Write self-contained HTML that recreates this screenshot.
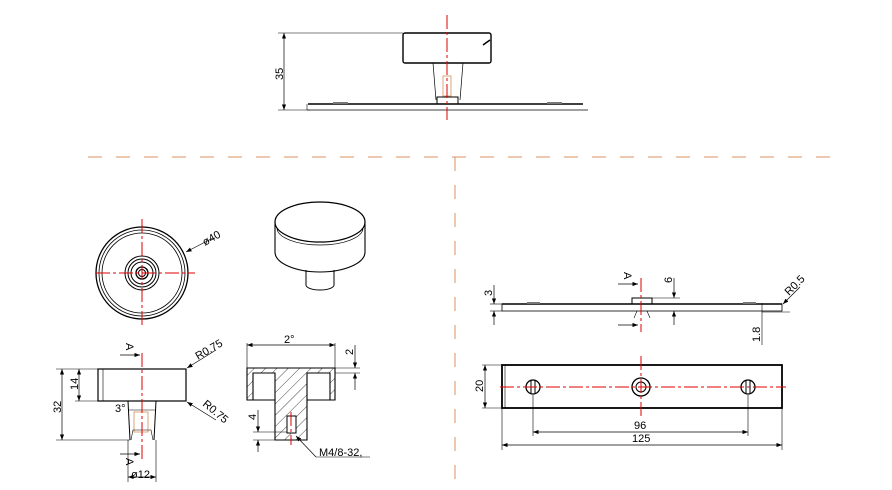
<!DOCTYPE html>
<html><head><meta charset="utf-8"><style>
html,body{margin:0;padding:0;background:#fff}
svg{display:block}
text{font-family:"Liberation Sans",sans-serif;font-size:11px;fill:#000}
</style></head><body>
<svg width="892" height="490" viewBox="0 0 892 490" xmlns="http://www.w3.org/2000/svg">
<defs>
<pattern id="h" width="8" height="8" patternUnits="userSpaceOnUse" patternTransform="rotate(45)">
<line x1="0" y1="0" x2="0" y2="8" stroke="#000" stroke-width="0.7"/></pattern>
<marker id="a" markerWidth="8" markerHeight="6" refX="8" refY="3" orient="auto-start-reverse"><path d="M0,0 L8,3 L0,6z" fill="#000"/></marker>
</defs>
<g stroke="#000" fill="none" stroke-width="1">
<line x1="278" y1="33" x2="403" y2="33" stroke-width="0.6"/>
<line x1="278" y1="110" x2="310" y2="110" stroke-width="0.6"/>
<line x1="284" y1="33" x2="284" y2="110" stroke-width="0.7" marker-start="url(#a)" marker-end="url(#a)"/>
<rect x="403" y="33" width="88" height="30" rx="2" stroke-width="1.4"/>
<line x1="483" y1="45" x2="490" y2="40" stroke-width="1.5"/>
<line x1="433" y1="63" x2="436" y2="100" stroke-width="0.7"/>
<line x1="463" y1="63" x2="460" y2="100" stroke-width="0.7"/>
<rect x="437" y="97" width="21" height="7"/>
<rect x="443" y="76" width="8" height="20" stroke="#d08040" stroke-width="0.7"/>
<line x1="308" y1="104" x2="583" y2="104" stroke-width="1.6"/>
<line x1="307" y1="110" x2="588" y2="110" stroke-width="0.8"/>
<line x1="307" y1="104" x2="307" y2="110" stroke-width="0.6"/>
<line x1="333" y1="103" x2="348" y2="103" stroke-width="2" stroke="#777"/>
<line x1="547" y1="103" x2="562" y2="103" stroke-width="2" stroke="#777"/>
<rect x="98" y="369" width="88" height="32" stroke-width="1.2"/>
<line x1="103" y1="369" x2="103" y2="401" stroke-width="0.6"/>
<line x1="128" y1="401" x2="130" y2="440"/>
<line x1="156" y1="401" x2="154" y2="440"/>
<line x1="128" y1="410" x2="156" y2="410" stroke-width="0.6"/>
<rect x="134" y="412" width="14" height="20" stroke="#d08040" stroke-width="0.7"/>
<path d="M131,440 L133,430 L151,430 L153,440" stroke-width="0.6"/>
<line x1="56" y1="369" x2="98" y2="369" stroke-width="0.6"/>
<line x1="56" y1="440" x2="130" y2="440" stroke-width="0.6"/>
<line x1="62" y1="369" x2="62" y2="440" stroke-width="0.7" marker-start="url(#a)" marker-end="url(#a)"/>
<line x1="79" y1="369" x2="79" y2="401" stroke-width="0.7" marker-start="url(#a)" marker-end="url(#a)"/>
<line x1="75" y1="401" x2="98" y2="401" stroke-width="0.6"/>
<line x1="128" y1="440" x2="128" y2="482" stroke-width="0.6"/>
<line x1="156" y1="440" x2="156" y2="482" stroke-width="0.6"/>
<line x1="128" y1="477" x2="156" y2="477" stroke-width="0.7" marker-start="url(#a)" marker-end="url(#a)"/>
<line x1="120" y1="355" x2="140" y2="355" stroke-width="0.7" marker-end="url(#a)"/>
<line x1="120" y1="454" x2="140" y2="454" stroke-width="0.7" marker-end="url(#a)"/>
<line x1="216" y1="350" x2="187" y2="368" stroke-width="0.7" marker-end="url(#a)"/>
<line x1="216" y1="420" x2="187" y2="402" stroke-width="0.7" marker-end="url(#a)"/>
<path d="M247,368 H335 V400 H307 V440 H275 V400 H247 Z M253,373 V400 H275 V373 Z M307,373 V400 H330 V373 Z" fill="url(#h)" fill-rule="evenodd" stroke-width="1.1"/>
<line x1="247" y1="343" x2="247" y2="368" stroke-width="0.6"/>
<line x1="335" y1="343" x2="335" y2="368" stroke-width="0.6"/>
<line x1="247" y1="345" x2="335" y2="345" stroke-width="0.7" marker-start="url(#a)" marker-end="url(#a)"/>
<line x1="335" y1="368" x2="360" y2="368" stroke-width="0.6"/>
<line x1="335" y1="373" x2="360" y2="373" stroke-width="0.6"/>
<line x1="355" y1="345" x2="355" y2="368" stroke-width="0.7" marker-end="url(#a)"/>
<line x1="355" y1="390" x2="355" y2="373" stroke-width="0.7" marker-end="url(#a)"/>
<rect x="287" y="416" width="9" height="17" fill="#fff"/>
<line x1="253" y1="432" x2="287" y2="432" stroke-width="0.6"/>
<line x1="253" y1="440" x2="275" y2="440" stroke-width="0.6"/>
<line x1="258" y1="410" x2="258" y2="432" stroke-width="0.7" marker-end="url(#a)"/>
<line x1="258" y1="452" x2="258" y2="440" stroke-width="0.7" marker-end="url(#a)"/>
<line x1="316" y1="457" x2="296" y2="436" stroke-width="0.7" marker-end="url(#a)"/>
<line x1="316" y1="457" x2="370" y2="457" stroke-width="0.6"/>
<circle cx="142" cy="273" r="46" stroke-width="1.3"/>
<circle cx="142" cy="273" r="43" stroke-width="0.8"/>
<circle cx="142" cy="273" r="40" stroke-width="0.8"/>
<circle cx="142" cy="273" r="17"/>
<circle cx="142" cy="273" r="14"/>
<circle cx="142" cy="273" r="11"/>
<circle cx="142" cy="273" r="6" stroke-width="1.3"/>
<circle cx="142" cy="273" r="3.5"/>
<line x1="213" y1="238" x2="186" y2="252" stroke-width="0.7" marker-end="url(#a)"/>
<path d="M275,222 V252 A45,20 0 0 0 365,252 V222" stroke-width="1.1"/>
<ellipse cx="320" cy="222" rx="45" ry="20" stroke-width="1.2"/>
<path d="M277,228 A43,17 0 0 0 363,228" stroke-width="0.7"/>
<path d="M306,270 V285 A14,5 0 0 0 334,285 V270" stroke-width="1"/>
<rect x="502" y="304" width="280" height="7" stroke-width="0.8"/>
<line x1="502" y1="304" x2="782" y2="304" stroke-width="1.6"/>
<rect x="632" y="298" width="20" height="6"/>
<path d="M634,318 L637,311 M650,318 L647,311" stroke-width="0.6"/>
<line x1="527" y1="303" x2="540" y2="303" stroke-width="2" stroke="#777"/>
<line x1="743" y1="303" x2="756" y2="303" stroke-width="2" stroke="#777"/>
<line x1="490" y1="304" x2="502" y2="304" stroke-width="0.6"/>
<line x1="490" y1="311" x2="502" y2="311" stroke-width="0.6"/>
<line x1="494" y1="285" x2="494" y2="304" stroke-width="0.7" marker-end="url(#a)"/>
<line x1="494" y1="325" x2="494" y2="311" stroke-width="0.7" marker-end="url(#a)"/>
<line x1="652" y1="298" x2="680" y2="298" stroke-width="0.6"/>
<line x1="674" y1="278" x2="674" y2="298" stroke-width="0.7" marker-end="url(#a)"/>
<line x1="674" y1="325" x2="674" y2="311" stroke-width="0.7" marker-end="url(#a)"/>
<line x1="618" y1="284" x2="638" y2="284" stroke-width="0.7" marker-end="url(#a)"/>
<line x1="618" y1="325" x2="638" y2="325" stroke-width="0.7" marker-end="url(#a)"/>
<line x1="762" y1="303" x2="762" y2="345" stroke-width="0.6"/>
<line x1="762" y1="312" x2="790" y2="312" stroke-width="0.6"/>
<line x1="800" y1="287" x2="783" y2="304" stroke-width="0.7" marker-end="url(#a)"/>
<rect x="502" y="365" width="280" height="43" stroke-width="1.8"/>
<line x1="505" y1="365" x2="505" y2="408" stroke-width="0.6"/>
<circle cx="533" cy="387" r="7" stroke-width="1.3"/>
<line x1="531" y1="381" x2="531" y2="393"/><line x1="535" y1="381" x2="535" y2="393"/>
<circle cx="748" cy="387" r="7" stroke-width="1.3"/>
<line x1="746" y1="381" x2="746" y2="393"/><line x1="750" y1="381" x2="750" y2="393"/>
<circle cx="641" cy="387" r="9" stroke-width="1.3"/>
<circle cx="641" cy="387" r="5"/>
<line x1="482" y1="365" x2="502" y2="365" stroke-width="0.6"/>
<line x1="482" y1="408" x2="502" y2="408" stroke-width="0.6"/>
<line x1="485" y1="365" x2="485" y2="408" stroke-width="0.7" marker-start="url(#a)" marker-end="url(#a)"/>
<line x1="533" y1="395" x2="533" y2="436" stroke-width="0.6"/>
<line x1="748" y1="395" x2="748" y2="436" stroke-width="0.6"/>
<line x1="533" y1="432" x2="748" y2="432" stroke-width="0.7" marker-start="url(#a)" marker-end="url(#a)"/>
<line x1="502" y1="408" x2="502" y2="450" stroke-width="0.6"/>
<line x1="782" y1="408" x2="782" y2="450" stroke-width="0.6"/>
<line x1="502" y1="445" x2="782" y2="445" stroke-width="0.7" marker-start="url(#a)" marker-end="url(#a)"/>
</g>
<g stroke="#e00000" stroke-width="1" stroke-dasharray="14,3,3,3" fill="none">
<line x1="447" y1="15" x2="447" y2="120"/>
<line x1="142" y1="353" x2="142" y2="462"/>
<line x1="291" y1="412" x2="291" y2="445"/>
<line x1="96" y1="273" x2="195" y2="273"/>
<line x1="142" y1="219" x2="142" y2="328"/>
<line x1="641" y1="278" x2="641" y2="332"/>
<line x1="641" y1="356" x2="641" y2="418"/>
<line x1="500" y1="387" x2="786" y2="387"/>
</g>
<g stroke="#d89060" stroke-width="1" stroke-dasharray="14,14" fill="none">
<line x1="88" y1="157" x2="836" y2="157"/>
<line x1="455" y1="157" x2="455" y2="490"/>
</g>
<text transform="translate(283,80) rotate(-90)">35</text>
<text transform="translate(205,246) rotate(-30)">ø40</text>
<text transform="translate(126,343) rotate(90)">A</text>
<text transform="translate(126,458) rotate(90)">A</text>
<text transform="translate(61,413) rotate(-90)">32</text>
<text transform="translate(78,390) rotate(-90)">14</text>
<text x="115" y="412">3°</text>
<text x="131" y="478">ø12</text>
<text transform="translate(198,360) rotate(-30)">R0.75</text>
<text transform="translate(202,405) rotate(40)">R0.75</text>
<text x="284" y="343">2°</text>
<text transform="translate(353,355) rotate(-90)">2</text>
<text transform="translate(256,420) rotate(-90)">4</text>
<text x="319" y="456">M4/8-32,</text>
<text transform="translate(492,296) rotate(-90)">3</text>
<text transform="translate(624,272) rotate(90)">A</text>
<text transform="translate(672,283) rotate(-90)">6</text>
<text transform="translate(760,342) rotate(-90)">1.8</text>
<text transform="translate(789,296) rotate(-45)">R0.5</text>
<text transform="translate(483,392) rotate(-90)">20</text>
<text x="634" y="429">96</text>
<text x="632" y="442">125</text>
</svg>
</body></html>
